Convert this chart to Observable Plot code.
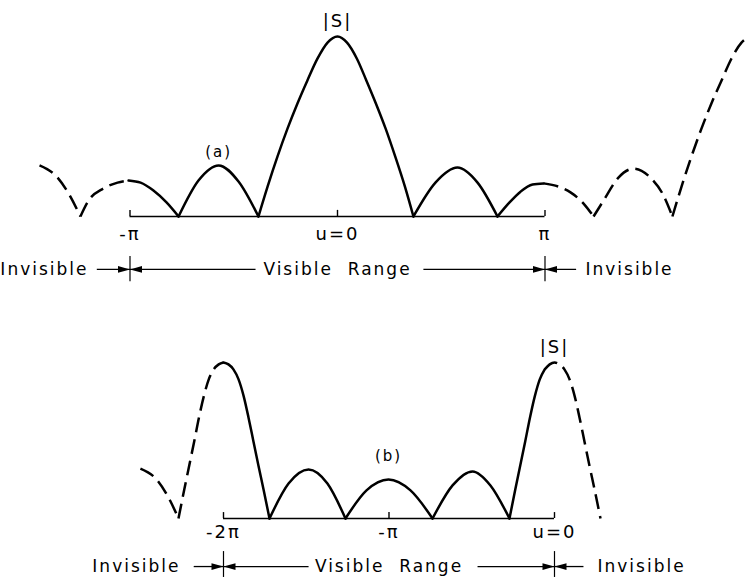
<!DOCTYPE html>
<html>
<head>
<meta charset="utf-8">
<script src="https://cdn.jsdelivr.net/npm/d3@7"></script>
<script src="https://cdn.jsdelivr.net/npm/@observablehq/plot@0.6"></script>
<style>
  html, body { margin: 0; padding: 0; background: #fff; }
  #chart svg { display: block; }
</style>
</head>
<body>
<div id="chart"></div>
<script>
// |S| of a uniform array plotted against u (u in units of π).
// Each lobe is stored as its own list of [u, |S|] points so the nulls stay sharp.

// (a) broadside: visible range -π … π
const visibleA = [-1, 1];
const ticksA = [-1, 0, 1];
const tickLabelsA = ["-π", "u=0", "π"];
const solidA = [
  [[-1.007, 1.00], [-0.949, 0.94], [-0.887, 0.72], [-0.824, 0.39], [-0.766, 0]],
  [[-0.766, 0], [-0.670, 1.00], [-0.573, 1.42], [-0.477, 0.97], [-0.381, 0]],
  [[-0.381, 0], [-0.337, 0.83], [-0.289, 1.67], [-0.241, 2.44], [-0.193, 3.14], [-0.145, 3.78], [-0.096, 4.39], [-0.048, 4.83], [0, 5],
   [0.046, 4.83], [0.093, 4.39], [0.139, 3.78], [0.185, 3.14], [0.232, 2.44], [0.278, 1.67], [0.325, 0.83], [0.366, 0]],
  [[0.366, 0], [0.472, 0.94], [0.578, 1.36], [0.675, 0.94], [0.771, 0]],
  [[0.771, 0], [0.829, 0.39], [0.882, 0.69], [0.940, 0.89], [0.993, 0.92]]
];
const dashedA = [
  [[-1.436, 1.42], [-1.349, 1.08], [-1.296, 0.64], [-1.239, 0]],
  [[-1.239, 0], [-1.200, 0.44], [-1.128, 0.78], [-1.060, 0.94], [-1.007, 1.00]],
  [[0.993, 0.92], [1.065, 0.83], [1.123, 0.67], [1.186, 0.36], [1.234, 0]],
  [[1.234, 0], [1.282, 0.44], [1.354, 1.08], [1.427, 1.33], [1.508, 1.08], [1.566, 0.64], [1.614, 0]],
  [[1.614, 0], [1.658, 0.83], [1.706, 1.67], [1.754, 2.44], [1.802, 3.14], [1.851, 3.78], [1.899, 4.39], [1.947, 4.83], [1.995, 5]]
];

// (b) endfire: visible range -2π … 0
const visibleB = [-2, 0];
const ticksB = [-2, -1, 0];
const tickLabelsB = ["-2π", "-π", "u=0"];
const solidB = [
  [[-2.0, 5], [-1.970, 4.94], [-1.940, 4.78], [-1.909, 4.46], [-1.879, 3.94], [-1.849, 3.24], [-1.819, 2.47], [-1.789, 1.70], [-1.758, 0.93], [-1.722, 0]],
  [[-1.722, 0], [-1.607, 1.12], [-1.486, 1.57], [-1.372, 1.12], [-1.263, 0]],
  [[-1.263, 0], [-1.136, 0.90], [-1.003, 1.25], [-0.870, 0.90], [-0.737, 0]],
  [[-0.737, 0], [-0.616, 1.06], [-0.495, 1.51], [-0.387, 1.06], [-0.272, 0]],
  [[-0.272, 0], [-0.237, 0.93], [-0.207, 1.70], [-0.177, 2.47], [-0.148, 3.24], [-0.118, 3.94], [-0.089, 4.46], [-0.059, 4.78]]
];
const dashedB = [
  [[-2.502, 1.60], [-2.399, 1.22], [-2.332, 0.67], [-2.272, 0]],
  [[-2.272, 0], [-2.237, 0.93], [-2.207, 1.70], [-2.177, 2.47], [-2.148, 3.24], [-2.118, 3.94], [-2.089, 4.46], [-2.059, 4.78], [-2.029, 4.94], [-2.0, 5]],
  [[-0.059, 4.78], [-0.029, 4.94], [0, 5], [0.030, 4.94], [0.060, 4.78], [0.091, 4.46], [0.121, 3.94], [0.151, 3.24], [0.181, 2.47], [0.211, 1.70], [0.242, 0.93], [0.278, 0]]
];

// flatten lobes into rows with a lobe id
const rows = (lobes) => lobes.flatMap((pts, i) => pts.map(([u, s]) => ({u, s, lobe: i})));

// filled arrowheads whose tip sits on the anchor point
const headRight = {draw(c) { c.moveTo(0, 0); c.lineTo(-12, -3.4); c.lineTo(-12, 3.4); c.closePath(); }};
const headLeft  = {draw(c) { c.moveTo(0, 0); c.lineTo(12, -3.4); c.lineTo(12, 3.4); c.closePath(); }};

function panel({xDomain, yDomain, visible, ticks, tickLabels, solid, dashed, tick, labelY, sLabelY, tag, tagX, tagY,
                rowY, barY, outer, inner, leftText, rightText}) {
  const [lo, hi] = visible;
  return Plot.plot({
    width: 745,
    height: 290,
    margin: 0,
    x: {domain: xDomain, range: [0, 745], axis: null},
    y: {domain: yDomain, range: [290, 0], axis: null},
    style: {fontFamily: "DejaVu Sans", fontSize: "17px", letterSpacing: "2px", background: "white", color: "black"},
    marks: [
      // baseline of the visible range with its ticks
      Plot.ruleY([0], {x1: lo, x2: hi, strokeWidth: 1.4}),
      Plot.ruleX(ticks, {y1: 0, y2: tick, strokeWidth: 1.4}),
      // pattern: solid inside the visible range, dashed outside
      Plot.line(rows(solid), {x: "u", y: "s", z: "lobe", curve: "monotone-x", strokeWidth: 2.5}),
      Plot.line(rows(dashed), {x: "u", y: "s", z: "lobe", curve: "monotone-x", strokeWidth: 2.5,
                               strokeDasharray: "15,7", strokeLinecap: "butt"}),
      // tick labels
      Plot.text(tickLabels, {x: (d, i) => ticks[i], y: labelY, text: (d) => d, fontSize: 18}),
      Plot.text(["|S|"], {x: 0, y: sLabelY, text: (d) => d, fontSize: 18}),
      Plot.text([tag], {x: tagX, y: tagY, text: (d) => d, fontSize: 15}),
      // visible / invisible annotation row
      Plot.text(["Invisible"], {x: leftText, y: rowY, text: (d) => d, textAnchor: "end"}),
      Plot.text(["Invisible"], {x: rightText, y: rowY, text: (d) => d, textAnchor: "start"}),
      Plot.text(["Visible  Range"], {x: (lo + hi) / 2, y: rowY, text: (d) => d}),
      Plot.link([[outer[0], lo], [lo, inner[0]], [inner[1], hi], [hi, outer[1]]],
                {x1: (d) => d[0], x2: (d) => d[1], y1: rowY, y2: rowY, strokeWidth: 1.3}),
      Plot.ruleX(visible, {y1: barY[0], y2: barY[1], strokeWidth: 1.2}),
      Plot.dot([lo, hi], {x: (d) => d, y: rowY, symbol: headRight, fill: "black", stroke: "none"}),
      Plot.dot([lo, hi], {x: (d) => d, y: rowY, symbol: headLeft, fill: "black", stroke: "none"})
    ]
  });
}

const chart = document.getElementById("chart");

chart.append(panel({
  xDomain: [-1.6241, 1.9663], yDomain: [-2.0556, 6],
  visible: visibleA, ticks: ticksA, tickLabels: tickLabelsA,
  solid: solidA, dashed: dashedA,
  tick: 0.17, labelY: -0.5, sLabelY: 5.42,
  tag: "(a)", tagX: -0.573, tagY: 1.78,
  rowY: -1.47, barY: [-1.11, -1.81],
  outer: [-1.16, 1.15], inner: [-0.395, 0.414],
  leftText: -1.2, rightText: 1.195
}));

chart.append(panel({
  xDomain: [-3.3474, 1.1541], yDomain: [-1.9872, 7.3077],
  visible: visibleB, ticks: ticksB, tickLabels: tickLabelsB,
  solid: solidB, dashed: dashedB,
  tick: 0.19, labelY: -0.45, sLabelY: 5.48,
  tag: "(b)", tagX: -1.003, tagY: 1.99,
  rowY: -1.54, barY: [-1.06, -1.89],
  outer: [-2.18, 0.175], inner: [-1.486, -0.465],
  leftText: -2.26, rightText: 0.26
}));
</script>
</body>
</html>
